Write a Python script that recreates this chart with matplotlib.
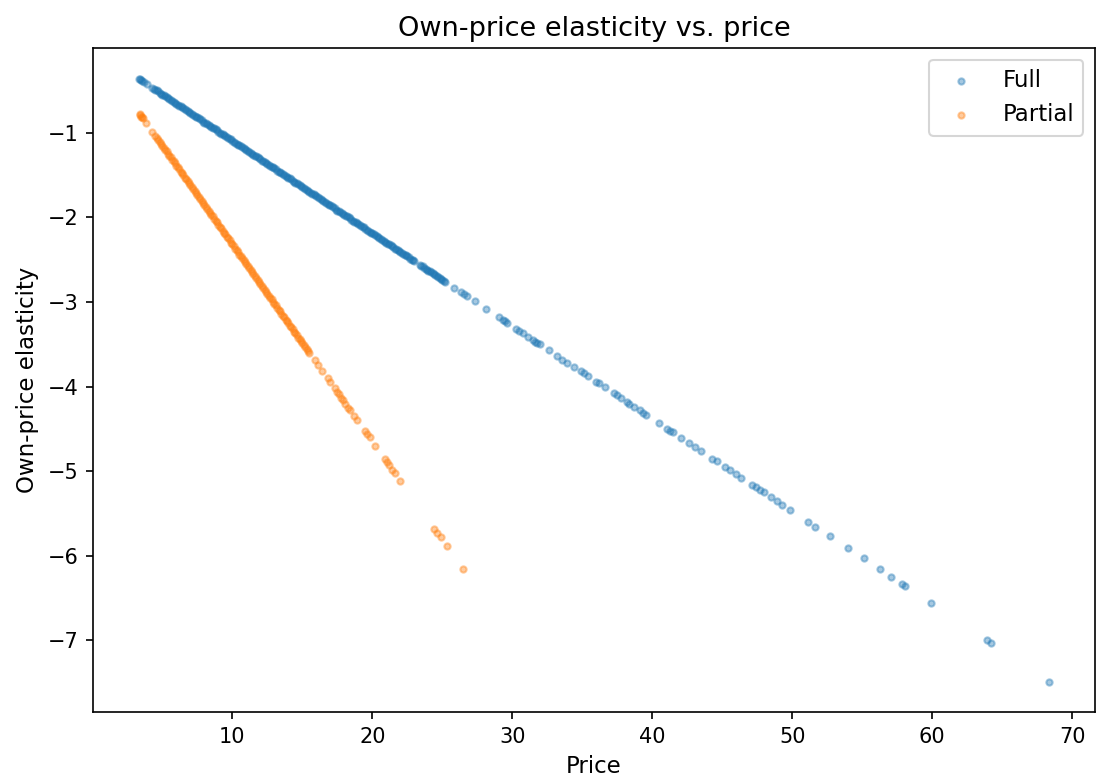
import matplotlib
matplotlib.use("Agg")
import matplotlib.pyplot as plt

# Full model: price and own-price elasticity
full_price = [
    3.31, 3.38, 3.45, 3.55, 3.66, 3.92, 4.25,
    4.4, 4.6, 4.8, 5.0, 5.2, 5.4, 5.6, 5.8, 6.0, 6.2, 6.4, 6.6, 6.8, 7.0,
    7.2, 7.4, 7.6, 7.8, 8.0, 8.2, 8.4, 8.6, 8.8, 9.0, 9.2, 9.4, 9.6, 9.8,
    10.0, 10.2, 10.4, 10.6, 10.8, 11.0, 11.2, 11.4, 11.6, 11.8, 12.0, 12.2,
    12.4, 12.6, 12.8, 13.0, 13.2, 13.4, 13.6, 13.8, 14.0, 14.2, 14.4, 14.6,
    14.8, 15.0, 15.2, 15.4, 15.6, 15.8, 16.0, 16.2, 16.4, 16.6, 16.8, 17.0,
    17.2, 17.4, 17.6, 17.8, 18.0, 18.2, 18.4, 18.6, 18.8, 19.0, 19.2, 19.4,
    19.6, 19.8, 20.0, 20.2, 20.4, 20.6, 20.8, 21.0, 21.2, 21.4, 21.6, 21.8,
    22.0, 22.2, 22.4, 22.6, 22.8, 23.0, 23.4, 23.6, 23.8, 24.0, 24.2, 24.4,
    24.6, 24.8, 25.0, 25.2,
    25.85, 26.3, 26.56, 26.75, 27.34, 28.12, 29.06, 29.35, 29.5, 29.65,
    30.28, 30.5, 30.8, 31.1, 31.5, 31.65, 31.8, 31.95, 32.64, 33.2, 33.57,
    33.93, 34.4, 34.88, 35.1, 35.4, 36.0, 36.17, 36.6, 37.3, 37.47, 37.8,
    38.2, 38.35, 38.7, 39.1, 39.35, 39.54, 40.5, 41.07, 41.24, 41.47, 42.06,
    42.65, 43.05, 43.5, 44.3, 44.6, 45.17, 45.55, 45.95, 46.35, 47.1, 47.4,
    47.67, 47.95, 48.5, 48.9, 49.3, 49.85, 51.1, 51.65, 52.67, 53.96, 55.1,
    56.26, 57.04, 57.85, 58.08, 59.9, 63.9, 64.2, 68.37,
]
full_elast = [
    -0.36, -0.37, -0.38, -0.39, -0.40, -0.43, -0.47,
    -0.48, -0.50, -0.53, -0.55, -0.57, -0.59, -0.61, -0.64, -0.66, -0.68,
    -0.70, -0.72, -0.74, -0.77, -0.79, -0.81, -0.83, -0.85, -0.88, -0.90,
    -0.92, -0.94, -0.96, -0.99, -1.01, -1.03, -1.05, -1.07, -1.10, -1.12,
    -1.14, -1.16, -1.18, -1.20, -1.23, -1.25, -1.27, -1.29, -1.31, -1.34,
    -1.36, -1.38, -1.40, -1.42, -1.45, -1.47, -1.49, -1.51, -1.53, -1.55,
    -1.58, -1.60, -1.62, -1.64, -1.66, -1.69, -1.71, -1.73, -1.75, -1.77,
    -1.80, -1.82, -1.84, -1.86, -1.88, -1.91, -1.93, -1.95, -1.97, -1.99,
    -2.01, -2.04, -2.06, -2.08, -2.10, -2.12, -2.15, -2.17, -2.19, -2.21,
    -2.23, -2.26, -2.28, -2.30, -2.32, -2.34, -2.37, -2.39, -2.41, -2.43,
    -2.45, -2.47, -2.50, -2.52, -2.56, -2.58, -2.61, -2.63, -2.65, -2.67,
    -2.69, -2.72, -2.74, -2.76,
    -2.83, -2.88, -2.91, -2.93, -2.99, -3.08, -3.18, -3.21, -3.23, -3.25,
    -3.32, -3.34, -3.37, -3.41, -3.45, -3.47, -3.48, -3.50, -3.57, -3.64,
    -3.68, -3.72, -3.77, -3.82, -3.84, -3.88, -3.94, -3.96, -4.01, -4.08,
    -4.10, -4.14, -4.18, -4.20, -4.24, -4.28, -4.31, -4.33, -4.43, -4.50,
    -4.52, -4.54, -4.61, -4.67, -4.71, -4.76, -4.85, -4.88, -4.95, -4.99,
    -5.03, -5.08, -5.16, -5.19, -5.22, -5.25, -5.31, -5.35, -5.40, -5.46,
    -5.60, -5.66, -5.77, -5.91, -6.03, -6.16, -6.25, -6.33, -6.36, -6.56,
    -7.00, -7.03, -7.49,
]
# more observations inside the dense band of the full model
full_price_band = [
    4.5, 4.7, 4.9, 5.1, 5.3, 5.5, 5.7, 5.9, 6.1, 6.3, 6.5, 6.7, 6.9, 7.1,
    7.3, 7.5, 7.7, 7.9, 8.1, 8.3, 8.5, 8.7, 8.9, 9.1, 9.3, 9.5, 9.7, 9.9,
    10.1, 10.3, 10.5, 10.7, 10.9, 11.1, 11.3, 11.5, 11.7, 11.9, 12.1, 12.3,
    12.5, 12.7, 12.9, 13.1, 13.3, 13.5, 13.7, 13.9, 14.1, 14.3, 14.5, 14.7,
    14.9, 15.1, 15.3, 15.5, 15.7, 15.9, 16.1, 16.3, 16.5, 16.7, 16.9, 17.1,
    17.3, 17.5, 17.7, 17.9, 18.1, 18.3, 18.5, 18.7, 18.9, 19.1, 19.3, 19.5,
    19.7, 19.9, 20.1, 20.3, 20.5, 20.7, 20.9, 21.1, 21.3, 21.5, 21.7, 21.9,
    22.1, 22.3, 22.5, 22.7, 22.9, 23.5, 23.7, 23.9, 24.1, 24.3, 24.5, 24.7,
    24.9, 25.1,
]
full_elast_band = [
    -0.49, -0.51, -0.54, -0.56, -0.58, -0.60, -0.62, -0.65, -0.67, -0.69,
    -0.71, -0.73, -0.76, -0.78, -0.80, -0.82, -0.84, -0.87, -0.89, -0.91,
    -0.93, -0.95, -0.97, -1.00, -1.02, -1.04, -1.06, -1.08, -1.11, -1.13,
    -1.15, -1.17, -1.19, -1.22, -1.24, -1.26, -1.28, -1.30, -1.33, -1.35,
    -1.37, -1.39, -1.41, -1.43, -1.46, -1.48, -1.50, -1.52, -1.54, -1.57,
    -1.59, -1.61, -1.63, -1.65, -1.68, -1.70, -1.72, -1.74, -1.76, -1.78,
    -1.81, -1.83, -1.85, -1.87, -1.89, -1.92, -1.94, -1.96, -1.98, -2.00,
    -2.03, -2.05, -2.07, -2.09, -2.11, -2.14, -2.16, -2.18, -2.20, -2.22,
    -2.24, -2.27, -2.29, -2.31, -2.33, -2.35, -2.38, -2.40, -2.42, -2.44,
    -2.46, -2.49, -2.51, -2.57, -2.60, -2.62, -2.64, -2.66, -2.68, -2.70,
    -2.73, -2.75,
]

# Partial model
partial_price = [
    3.38, 3.43, 3.5, 3.55, 3.62, 3.85, 4.28,
    4.5, 4.7, 4.9, 5.1, 5.3, 5.5, 5.7, 5.9, 6.1, 6.3, 6.5, 6.7, 6.9, 7.1,
    7.3, 7.5, 7.7, 7.9, 8.1, 8.3, 8.5, 8.7, 8.9, 9.1, 9.3, 9.5, 9.7, 9.9,
    10.1, 10.3, 10.5, 10.7, 10.9, 11.1, 11.3, 11.5, 11.7, 11.9, 12.1, 12.3,
    12.5, 12.7, 12.9, 13.1, 13.3, 13.5, 13.7, 13.9, 14.1, 14.3, 14.5, 14.7,
    14.9, 15.1, 15.3, 15.5,
    15.9, 16.15, 16.4, 16.8, 16.97, 17.3, 17.45, 17.6, 17.75, 17.9, 18.05,
    18.27, 18.4, 18.7, 18.9, 19.45, 19.6, 19.8, 20.2, 20.9, 21.05, 21.2,
    21.4, 21.6, 21.97, 24.4, 24.63, 24.87, 25.3, 26.47,
]
partial_elast = [
    -0.78, -0.79, -0.81, -0.82, -0.83, -0.89, -0.99,
    -1.04, -1.09, -1.13, -1.18, -1.22, -1.27, -1.32, -1.36, -1.41, -1.46,
    -1.50, -1.55, -1.60, -1.64, -1.69, -1.74, -1.78, -1.83, -1.88, -1.92,
    -1.97, -2.02, -2.06, -2.11, -2.16, -2.20, -2.25, -2.30, -2.34, -2.39,
    -2.44, -2.48, -2.53, -2.58, -2.62, -2.67, -2.72, -2.76, -2.81, -2.86,
    -2.90, -2.95, -3.00, -3.04, -3.09, -3.14, -3.18, -3.23, -3.28, -3.32,
    -3.37, -3.42, -3.46, -3.51, -3.55, -3.60,
    -3.69, -3.75, -3.81, -3.90, -3.94, -4.02, -4.06, -4.09, -4.13, -4.16,
    -4.20, -4.25, -4.28, -4.35, -4.39, -4.52, -4.56, -4.60, -4.70, -4.86,
    -4.89, -4.93, -4.98, -5.02, -5.11, -5.68, -5.73, -5.78, -5.88, -6.16,
]
partial_price_band = [
    4.6, 4.8, 5.0, 5.2, 5.4, 5.6, 5.8, 6.0, 6.2, 6.4, 6.6, 6.8, 7.0, 7.2,
    7.4, 7.6, 7.8, 8.0, 8.2, 8.4, 8.6, 8.8, 9.0, 9.2, 9.4, 9.6, 9.8, 10.0,
    10.2, 10.4, 10.6, 10.8, 11.0, 11.2, 11.4, 11.6, 11.8, 12.0, 12.2, 12.4,
    12.6, 12.8, 13.0, 13.2, 13.4, 13.6, 13.8, 14.0, 14.2, 14.4, 14.6, 14.8,
    15.0, 15.2, 15.4,
]
partial_elast_band = [
    -1.06, -1.11, -1.16, -1.20, -1.25, -1.29, -1.34, -1.39, -1.43, -1.48,
    -1.53, -1.57, -1.62, -1.67, -1.71, -1.76, -1.81, -1.85, -1.90, -1.95,
    -1.99, -2.04, -2.09, -2.13, -2.18, -2.23, -2.27, -2.32, -2.37, -2.41,
    -2.46, -2.51, -2.55, -2.60, -2.65, -2.69, -2.74, -2.79, -2.83, -2.88,
    -2.93, -2.97, -3.02, -3.07, -3.11, -3.16, -3.21, -3.25, -3.30, -3.35,
    -3.39, -3.44, -3.49, -3.53, -3.58,
]

fig, ax = plt.subplots(figsize=(1097 / 150, 780 / 150), dpi=150)
plt.subplots_adjust(left=0.085, right=0.998, top=0.938, bottom=0.087)

ax.scatter(full_price + full_price_band, full_elast + full_elast_band,
           s=9, alpha=0.4, label='Full')
ax.scatter(partial_price + partial_price_band, partial_elast + partial_elast_band,
           s=9, alpha=0.4, label='Partial')

ax.set_title('Own-price elasticity vs. price', fontsize=13)
ax.set_xlabel('Price', fontsize=11)
ax.set_ylabel('Own-price elasticity', fontsize=11)
ax.legend(loc='upper right', fontsize=11)

plt.savefig('out.png', dpi=150)
